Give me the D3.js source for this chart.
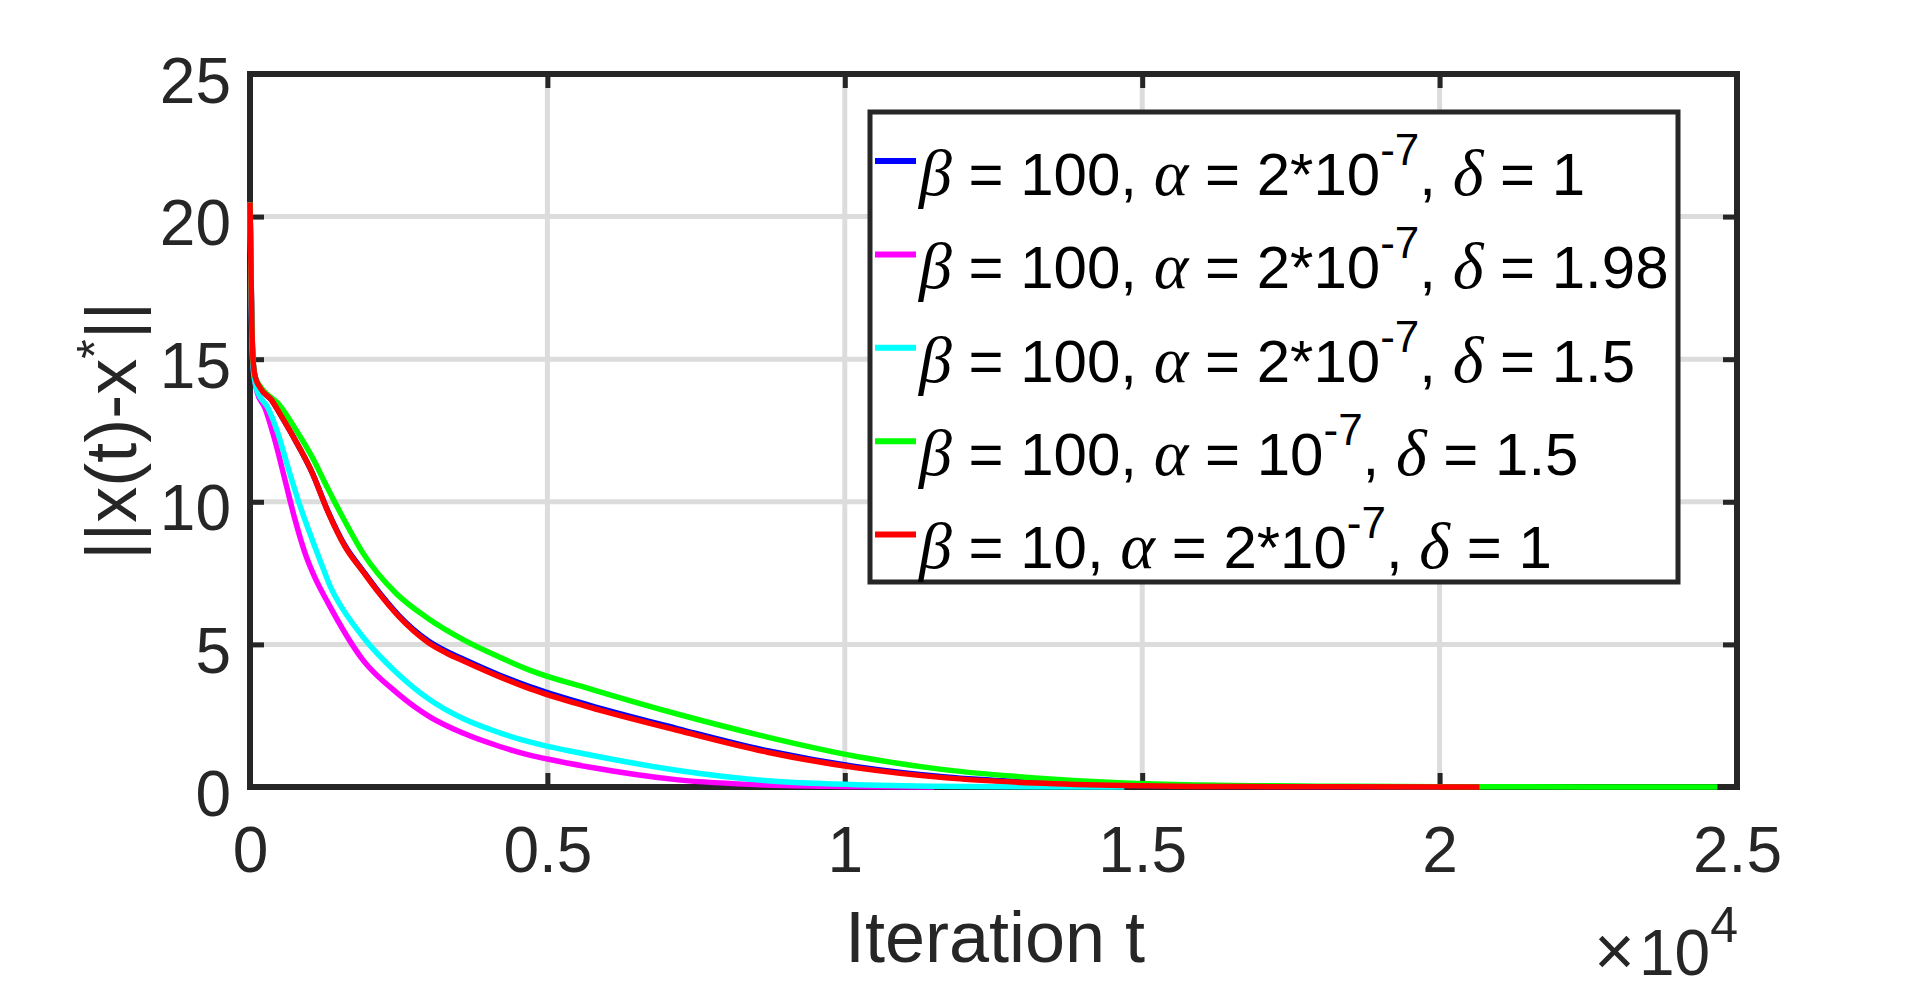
<html>
<head>
<script src='https://d3js.org/d3.v7.min.js'></script>
<style>
  body { margin: 0; background: white; }
  text { font-family: 'Liberation Sans', Arial, sans-serif; fill: #262626; }
</style>
</head>
<body onload='init()'>
<svg width=1920 height=990></svg>
<script>
var margin = {left: 250, top: 74, right: 183, bottom: 203};
var chartWidth = 1920 - margin.left - margin.right;
var chartHeight = 990 - margin.top - margin.bottom;

// axis ticks
var iterTicks = [0, 5000, 10000, 15000, 20000, 25000];
var iterTickLabels = ['0', '0.5', '1', '1.5', '2', '2.5'];
var errTicks = [0, 5, 10, 15, 20, 25];

// series (iteration, ||x(t)-x*||)
var blueIter = [0, 30, 50, 85, 170, 370, 500, 750, 1050, 1300, 1600, 1900, 2150, 2500, 3000, 3300, 3600, 4200, 4700, 5700, 7200, 8700, 10200, 11700, 13200, 14700, 16000, 18000, 20000];
var blueErr  = [20.5, 16.3, 15.0, 14.4, 14.0, 13.55, 13.1, 12.2, 11.0, 9.72, 8.45, 7.58, 6.88, 6.02, 5.12, 4.76, 4.47, 3.92, 3.52, 2.87, 2.04, 1.27, 0.71, 0.35, 0.16, 0.06, 0.025, 0.01, 0.0];

var magentaIter = [0, 30, 50, 85, 120, 250, 420, 590, 760, 925, 1090, 1300, 1900, 2470, 3030, 3580, 4200, 4700, 5000, 5700, 7200, 8700, 10000, 11500];
var magentaErr  = [20.5, 16.0, 14.8, 14.2, 13.85, 13.3, 12.15, 10.75, 9.35, 8.2, 7.35, 6.5, 4.45, 3.3, 2.45, 1.89, 1.42, 1.12, 0.98, 0.7, 0.25, 0.07, 0.02, 0.0];

var cyanIter = [0, 30, 50, 85, 120, 300, 470, 640, 810, 1050, 1260, 1345, 1430, 1900, 2470, 3030, 3580, 4200, 4700, 5700, 7200, 8700, 10200, 12000, 14700];
var cyanErr  = [20.5, 16.0, 14.8, 14.2, 13.9, 13.3, 12.4, 11.2, 10.05, 8.65, 7.5, 7.05, 6.7, 5.26, 4.0, 3.05, 2.4, 1.9, 1.58, 1.13, 0.58, 0.22, 0.08, 0.02, 0.0];

var greenIter = [0, 30, 50, 85, 170, 250, 470, 750, 1050, 1300, 1600, 1900, 2450, 3000, 3600, 4200, 4700, 5700, 7200, 8700, 10200, 11700, 13200, 14700, 16000, 18000, 20000, 24670];
var greenErr  = [20.5, 16.3, 15.0, 14.4, 14.05, 13.85, 13.45, 12.6, 11.55, 10.5, 9.3, 8.2, 6.8, 5.9, 5.15, 4.55, 4.1, 3.45, 2.55, 1.75, 1.07, 0.6, 0.32, 0.14, 0.07, 0.03, 0.01, 0.0];

var redIter = [0, 30, 50, 85, 170, 370, 500, 750, 1050, 1300, 1600, 1900, 2150, 2500, 3000, 3300, 3600, 4200, 4700, 5700, 7200, 8700, 10200, 11700, 13200, 14700, 16000, 18000, 20670];
var redErr  = [20.5, 16.3, 15.0, 14.4, 14.0, 13.55, 13.1, 12.2, 11.0, 9.7, 8.42, 7.55, 6.85, 5.98, 5.06, 4.7, 4.41, 3.86, 3.45, 2.8, 1.98, 1.22, 0.67, 0.32, 0.14, 0.05, 0.02, 0.01, 0.0];

// legend entries: beta, alpha mantissa, delta (alpha exponent is -7 everywhere)
var legendBeta  = ['100', '100', '100', '100', '10'];
var legendAlpha = ['2*10', '2*10', '2*10', '10', '2*10'];
var legendDelta = ['1', '1.98', '1.5', '1.5', '1'];
var colors = ['#0000ff', '#ff00ff', '#00ffff', '#00ff00', '#ff0000'];

function init() {
    var svg = d3.select('svg');
    svg.append('rect').attr('width', 1920).attr('height', 990).attr('fill', 'white');

    var x = d3.scaleLinear().domain([0, 25000]).range([0, chartWidth]);
    var y = d3.scaleLinear().domain([0, 25]).range([chartHeight, 0]);

    var g = svg.append('g')
      .attr('transform', 'translate(' + margin.left + ',' + margin.top + ')');

    /**
     * Grid
     */
    g.append('g').selectAll('line')
      .data(iterTicks.slice(1, -1))
      .enter().append('line')
      .attr('x1', function (d) { return x(d); })
      .attr('x2', function (d) { return x(d); })
      .attr('y1', 0).attr('y2', chartHeight)
      .style('stroke', '#dcdcdc').style('stroke-width', 5);

    g.append('g').selectAll('line')
      .data(errTicks.slice(1, -1))
      .enter().append('line')
      .attr('y1', function (d) { return y(d); })
      .attr('y2', function (d) { return y(d); })
      .attr('x1', 0).attr('x2', chartWidth)
      .style('stroke', '#dcdcdc').style('stroke-width', 5);

    /**
     * Axes (ticks inside, on all four sides)
     */
    var bottom = g.append('g')
      .attr('transform', 'translate(0,' + chartHeight + ')')
      .call(d3.axisBottom(x).tickValues(iterTicks).tickSize(-14).tickSizeOuter(0).tickPadding(40)
        .tickFormat(function (d, i) { return iterTickLabels[i]; }));
    var left = g.append('g')
      .call(d3.axisLeft(y).tickValues(errTicks).tickSize(-14).tickSizeOuter(0).tickPadding(19));
    var top = g.append('g')
      .call(d3.axisTop(x).tickValues(iterTicks).tickSize(-14).tickSizeOuter(0).tickFormat(''));
    var right = g.append('g')
      .attr('transform', 'translate(' + chartWidth + ',0)')
      .call(d3.axisRight(y).tickValues(errTicks).tickSize(-14).tickSizeOuter(0).tickFormat(''));

    [bottom, left, top, right].forEach(function (ax) {
        ax.select('.domain').remove();
        ax.selectAll('line').style('stroke', '#262626').style('stroke-width', 5);
        ax.selectAll('text').style('font-size', '64px').style('fill', '#262626')
          .style('font-family', "'Liberation Sans', Arial, sans-serif");
    });
    left.selectAll('text').attr('dy', '0.44em');

    g.append('rect')
      .attr('x', 0).attr('y', 0)
      .attr('width', chartWidth).attr('height', chartHeight)
      .style('fill', 'none').style('stroke', '#262626').style('stroke-width', 6);

    /**
     * Series
     */
    var line = d3.line()
      .x(function (d) { return x(d[0]); })
      .y(function (d) { return y(d[1]); })
      .curve(d3.curveMonotoneX);

    var series = [
        [blueIter, blueErr], [magentaIter, magentaErr], [cyanIter, cyanErr],
        [greenIter, greenErr], [redIter, redErr]
    ];
    series.forEach(function (s, idx) {
        var pts = s[0].map(function (t, i) { return [t, s[1][i]]; });
        g.append('path')
          .datum(pts)
          .attr('d', line)
          .style('fill', 'none')
          .style('stroke', colors[idx])
          .style('stroke-width', 5.5)
          .style('stroke-linejoin', 'round');
    });

    /**
     * Axis labels
     */
    svg.append('text')
      .attr('x', 995).attr('y', 962)
      .attr('text-anchor', 'middle')
      .style('font-size', '72px')
      .text('Iteration t');

    var ylab = svg.append('text')
      .attr('transform', 'translate(136,431)rotate(-90)')
      .attr('text-anchor', 'middle')
      .style('font-size', '72px');
    ylab.append('tspan').text('||x(t)-x');
    ylab.append('tspan').attr('dy', -24).style('font-size', '50px').text('*');
    ylab.append('tspan').attr('dy', 24).text('||');

    var expo = svg.append('text')
      .attr('x', 1738).attr('y', 975)
      .attr('text-anchor', 'end')
      .style('font-size', '64px');
    expo.append('tspan').style('font-size', '70px').style('font-weight', 300).text('\u00d7');
    expo.append('tspan').attr('dx', 4).text('10');
    expo.append('tspan').attr('dy', -33).style('font-size', '50px').text('4');

    /**
     * Legend
     */
    var legend = svg.append('g');
    legend.append('rect')
      .attr('x', 870).attr('y', 112)
      .attr('width', 808).attr('height', 470)
      .style('fill', 'white').style('stroke', '#262626').style('stroke-width', 5);

    legend.selectAll('line')
      .data(colors)
      .enter().append('line')
      .attr('x1', 875).attr('x2', 916)
      .attr('y1', function (d, i) { return 161 + i * 93.4; })
      .attr('y2', function (d, i) { return 161 + i * 93.4; })
      .style('stroke', function (d) { return d; })
      .style('stroke-width', 6);

    var greek = "'Liberation Serif', 'Times New Roman', serif";
    var rows = legend.selectAll('text')
      .data(legendBeta)
      .enter().append('text')
      .attr('x', 919)
      .attr('y', function (d, i) { return 195 + i * 93.3; })
      .style('font-size', '60px')
      .style('fill', 'black');
    rows.each(function (d, i) {
        var t = d3.select(this);
        t.append('tspan').style('font-family', greek).style('font-style', 'italic').style('font-size', '66px').text('\u03b2');
        t.append('tspan').text(' = ' + legendBeta[i] + ', ');
        t.append('tspan').style('font-family', greek).style('font-style', 'italic').style('font-size', '66px').text('\u03b1');
        t.append('tspan').text(' = ' + legendAlpha[i]);
        t.append('tspan').attr('dy', -30).style('font-size', '44px').text('-7');
        t.append('tspan').attr('dy', 30).text(', ');
        t.append('tspan').style('font-family', greek).style('font-style', 'italic').style('font-size', '66px').text('\u03b4');
        t.append('tspan').text(' = ' + legendDelta[i]);
    });
}
</script>
</body>
</html>
